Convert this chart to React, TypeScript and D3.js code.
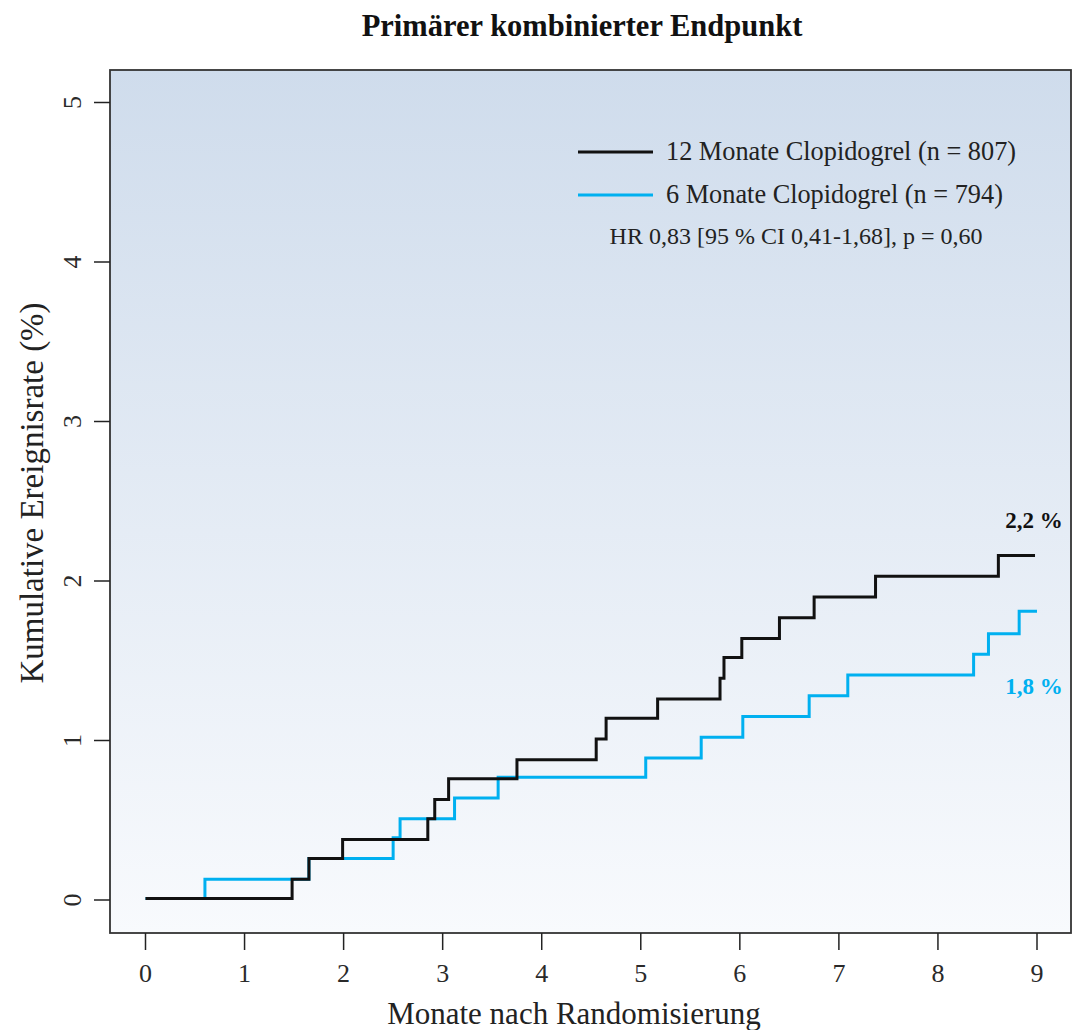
import React from 'react';
import { scaleLinear, line, curveStepAfter } from 'd3';

// Kaplan-Meier steps (months, cumulative event rate in %)
const monthsLong = [0, 1.48, 1.65, 1.99, 2.85, 2.92, 3.06, 3.75, 4.55, 4.65, 5.17, 5.80, 5.84, 6.02, 6.40, 6.75, 7.37, 8.61, 8.98];
const rateLong = [0.01, 0.13, 0.26, 0.38, 0.51, 0.63, 0.76, 0.88, 1.01, 1.14, 1.26, 1.39, 1.52, 1.64, 1.77, 1.90, 2.03, 2.16, 2.16];

const monthsShort = [0, 0.60, 1.65, 2.50, 2.57, 3.12, 3.56, 5.05, 5.61, 6.03, 6.70, 7.09, 8.36, 8.51, 8.82, 9.0];
const rateShort = [0.01, 0.13, 0.26, 0.39, 0.51, 0.64, 0.77, 0.89, 1.02, 1.15, 1.28, 1.41, 1.54, 1.67, 1.81, 1.81];

const xTicks = [0, 1, 2, 3, 4, 5, 6, 7, 8, 9];
const yTicks = [0, 1, 2, 3, 4, 5];

const legendLabels = ['12 Monate Clopidogrel (n = 807)', '6 Monate Clopidogrel (n = 794)'];
const statsLabel = 'HR 0,83 [95 % CI 0,41-1,68], p = 0,60';
const endLabels = ['2,2 %', '1,8 %'];

const BLACK = '#111111';
const BLUE = '#00b0f0';
const FONT = '"Liberation Serif", "DejaVu Serif", serif';

export default function App() {
  const box = { left: 110, right: 1071, top: 70, bottom: 933 };
  const x = scaleLinear().domain([0, 9]).range([145.5, 1037]);
  const y = scaleLinear().domain([0, 5]).range([900, 102.5]);

  const stepLine = line<[number, number]>()
    .x(d => x(d[0]))
    .y(d => y(d[1]))
    .curve(curveStepAfter);

  const longPts: [number, number][] = monthsLong.map((m, i) => [m, rateLong[i]]);
  const shortPts: [number, number][] = monthsShort.map((m, i) => [m, rateShort[i]]);

  return (
    <svg width={1072} height={1030} style={{ position: 'absolute', left: 0, top: 0 }} fontFamily={FONT}>
      <defs>
        <linearGradient id="bg" x1="0" y1="0" x2="0" y2="1">
          <stop offset="0%" stopColor="#cfdcec" />
          <stop offset="100%" stopColor="#f8fafd" />
        </linearGradient>
      </defs>
      <rect width={1072} height={1030} fill="#ffffff" />

      {/* Title */}
      <text x={582} y={36} textAnchor="middle" fontSize={30.5} fontWeight="bold" fill="#111">
        Primärer kombinierter Endpunkt
      </text>

      {/* Plot box */}
      <rect
        x={box.left}
        y={box.top}
        width={box.right - box.left}
        height={box.bottom - box.top}
        fill="url(#bg)"
        stroke="#333"
        strokeWidth={1.8}
      />

      {/* X axis */}
      {xTicks.map(t => (
        <g key={'x' + t} transform={`translate(${x(t)}, ${box.bottom})`}>
          <line y1={0} y2={17} stroke="#222" strokeWidth={1.5} />
          <text y={49} textAnchor="middle" fontSize={26} fill="#2a2a2a">{t}</text>
        </g>
      ))}
      <text x={574} y={1024} textAnchor="middle" fontSize={31} fill="#222">
        Monate nach Randomisierung
      </text>

      {/* Y axis */}
      {yTicks.map(t => (
        <g key={'y' + t}>
          <line x1={box.left} x2={box.left - 16} y1={y(t)} y2={y(t)} stroke="#222" strokeWidth={1.5} />
          <text transform={`translate(81, ${y(t)}) rotate(-90)`} textAnchor="middle" fontSize={26} fill="#2a2a2a">{t}</text>
        </g>
      ))}
      <text transform="translate(43, 493) rotate(-90)" textAnchor="middle" fontSize={33} fill="#222">
        Kumulative Ereignisrate (%)
      </text>

      {/* Curves */}
      <path d={stepLine(shortPts) || ''} fill="none" stroke={BLUE} strokeWidth={3} />
      <path d={stepLine(longPts) || ''} fill="none" stroke={BLACK} strokeWidth={3} />

      {/* End labels */}
      <text x={1034} y={528} textAnchor="middle" fontSize={23} fontWeight="bold" fill={BLACK}>{endLabels[0]}</text>
      <text x={1034} y={694} textAnchor="middle" fontSize={23} fontWeight="bold" fill={BLUE}>{endLabels[1]}</text>

      {/* Legend */}
      <line x1={578} x2={653} y1={152} y2={152} stroke={BLACK} strokeWidth={3} />
      <text x={666} y={160} fontSize={26.3} fill="#222">{legendLabels[0]}</text>
      <line x1={578} x2={653} y1={195} y2={195} stroke={BLUE} strokeWidth={3} />
      <text x={666} y={203} fontSize={26.3} fill="#222">{legendLabels[1]}</text>
      <text x={796} y={244} textAnchor="middle" fontSize={24} fill="#222">{statsLabel}</text>
    </svg>
  );
}
